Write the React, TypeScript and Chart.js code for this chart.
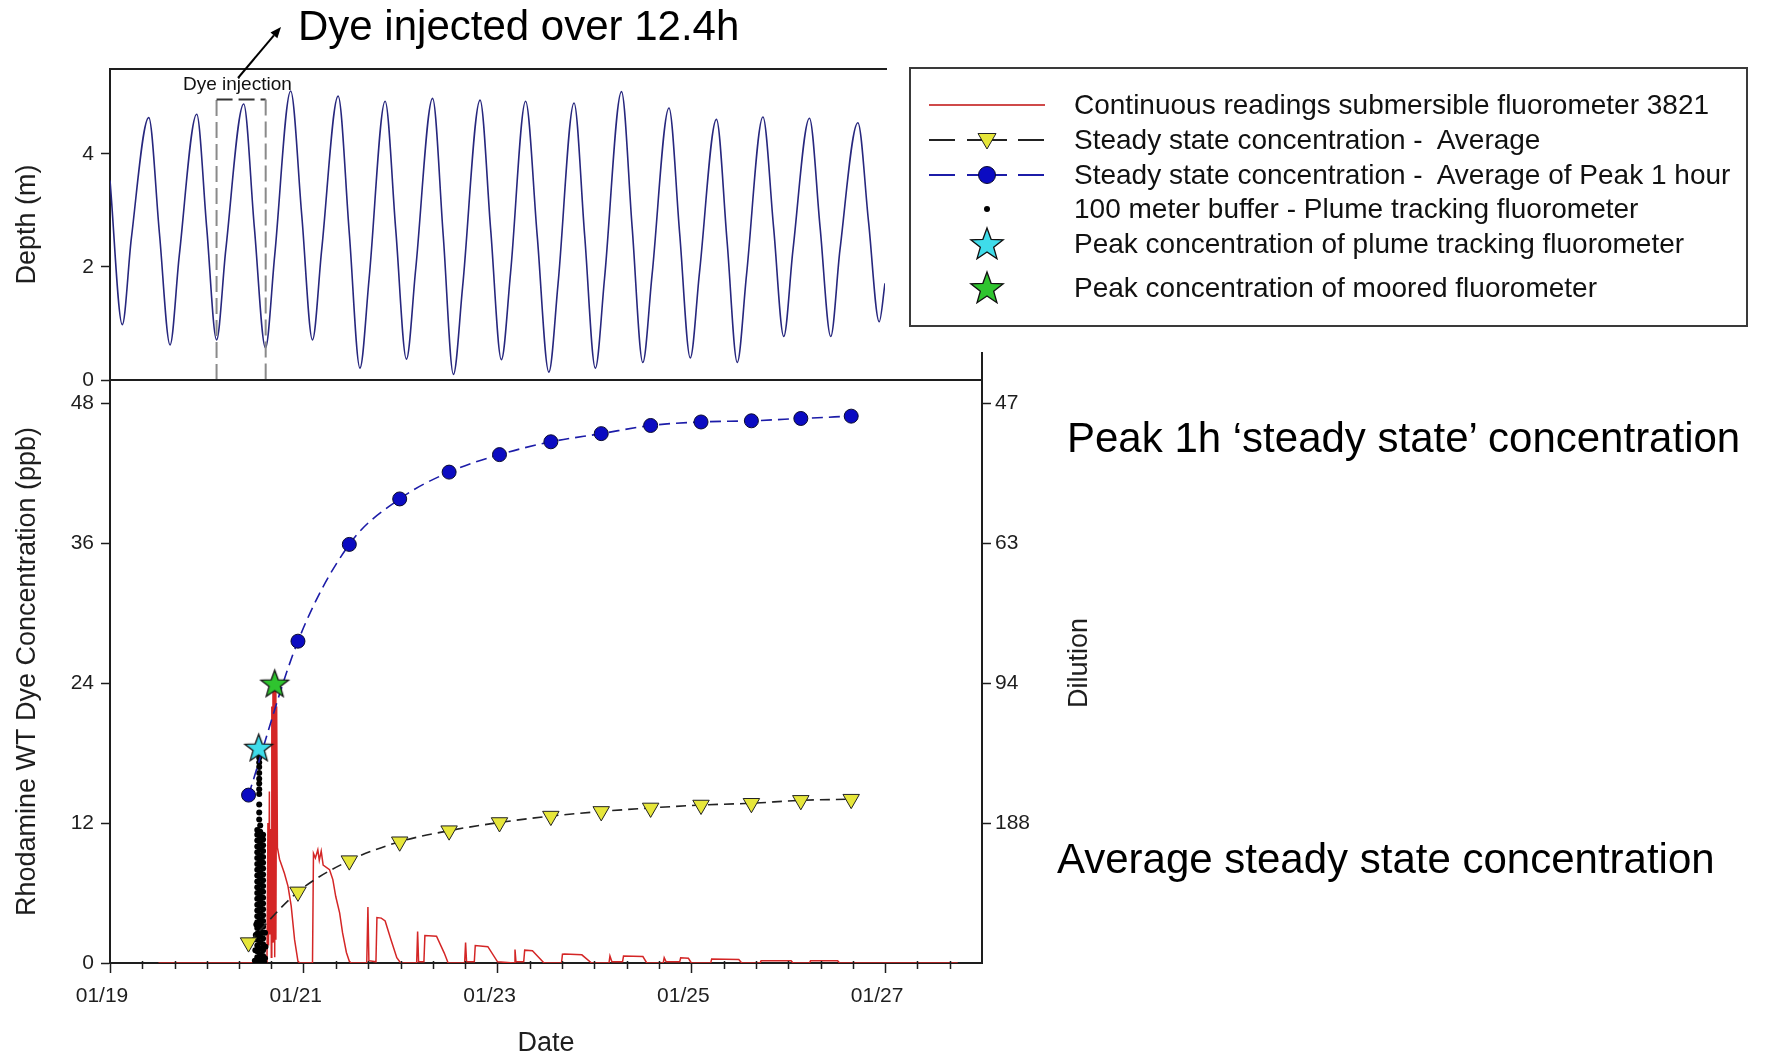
import React, { useEffect, useRef } from 'react';
import { Chart, registerables } from 'chart.js';

Chart.register(...registerables);

const W = 1765;
const H = 1058;
const FONT = '"Liberation Sans", Arial, Helvetica, sans-serif';
const INK = '#1e1e1e';

// ---------- axis ticks and labels ----------
const dateTickDays = [0, 2, 4, 6, 8]; // days after 01/19 00:00
const dateTickLabels = ['01/19', '01/21', '01/23', '01/25', '01/27'];
const depthTicks = [0, 2, 4];
const concTicks = [0, 12, 24, 36, 48];
const dilutionTicks = [12, 24, 36, 48];
const dilutionLabels = ['188', '94', '63', '47'];

// ---------- top panel: water depth (m) vs day ----------
const depthSeries: [number, number][] = [
  [0, 3.53], [0.127, 0.98], [0.22, 2.5], [0.40, 4.64], [0.51, 2.6], [0.62, 0.62],
  [0.715, 2.2], [0.895, 4.70], [0.998, 2.7], [1.10, 0.71], [1.195, 2.3], [1.38, 4.88],
  [1.49, 2.7], [1.605, 0.57], [1.70, 2.2], [1.865, 5.11], [1.98, 2.9], [2.09, 0.71],
  [2.185, 2.3], [2.355, 5.02], [2.47, 2.6], [2.58, 0.21], [2.675, 1.8], [2.84, 4.93],
  [2.95, 2.65], [3.06, 0.37], [3.155, 1.95], [3.33, 4.98], [3.44, 2.55], [3.545, 0.10],
  [3.64, 1.65], [3.82, 4.95], [3.93, 2.65], [4.04, 0.36], [4.135, 1.9], [4.29, 4.93],
  [4.41, 2.55], [4.53, 0.14], [4.625, 1.7], [4.79, 4.90], [4.90, 2.55], [5.01, 0.21],
  [5.105, 1.8], [5.28, 5.10], [5.39, 2.7], [5.50, 0.31], [5.595, 1.85], [5.77, 4.81],
  [5.88, 2.6], [5.99, 0.39], [6.085, 1.9], [6.26, 4.61], [6.37, 2.45], [6.475, 0.31],
  [6.57, 1.85], [6.74, 4.65], [6.85, 2.7], [6.955, 0.77], [7.05, 2.3], [7.22, 4.63],
  [7.33, 2.7], [7.44, 0.77], [7.535, 2.3], [7.72, 4.55], [7.83, 2.8], [7.94, 1.03],
  [8.0, 1.71],
];

// dye injection window (dashed box)
const injectionDays = [1.10, 1.10, 1.607, 1.607];
const injectionDepth = [0, 4.96, 4.96, 0];

// ---------- bottom panel ----------
// continuous readings, submersible fluorometer 3821 (ppb)
const fluorSeries: [number, number][] = [
  [0.50, 0], [1.62, 0], [1.63, 12.0], [1.636, 1.5], [1.645, 14.7], [1.652, 2.5], [1.66, 11.5],
  [1.665, 0.5], [1.67, 22.0], [1.676, 1.8], [1.682, 24.0], [1.688, 1.8], [1.694, 23.5],
  [1.70, 0.5], [1.706, 24.0], [1.712, 2.0], [1.72, 22.0], [1.728, 9.9], [1.75, 8.9],
  [1.80, 7.7], [1.837, 6.6], [1.87, 4.9], [1.905, 2.0], [1.94, 0.15], [1.96, 0],
  [2.09, 0], [2.10, 9.4], [2.12, 9.0], [2.145, 9.7], [2.16, 8.8], [2.18, 9.6], [2.20, 8.4],
  [2.266, 8.0], [2.30, 7.15], [2.33, 5.7], [2.37, 4.3], [2.40, 2.6], [2.44, 0.9], [2.47, 0.15],
  [2.49, 0], [2.65, 0], [2.662, 4.8], [2.672, 0.2], [2.745, 0.1], [2.755, 3.9], [2.80, 3.85],
  [2.84, 3.6], [2.90, 2.0], [2.96, 0.45], [3.0, 0], [3.165, 0], [3.175, 2.7], [3.185, 0.1],
  [3.24, 0.1], [3.25, 2.35], [3.37, 2.3], [3.45, 0.85], [3.49, 0], [3.66, 0], [3.67, 1.75],
  [3.68, 0.1], [3.76, 0.1], [3.77, 1.5], [3.90, 1.4], [4.0, 0.1], [4.17, 0], [4.18, 1.15],
  [4.19, 0.1], [4.27, 0.1], [4.28, 1.1], [4.36, 1.05], [4.48, 0], [4.66, 0], [4.67, 0.75],
  [4.69, 0.78], [4.87, 0.7], [4.97, 0], [5.15, 0], [5.16, 0.6], [5.18, 0.1], [5.29, 0.1],
  [5.30, 0.6], [5.50, 0.55], [5.54, 0], [5.71, 0], [5.72, 0.45], [5.74, 0.1], [5.88, 0.1],
  [5.89, 0.45], [5.97, 0.4], [6.0, 0], [6.20, 0], [6.21, 0.35], [6.49, 0.3], [6.52, 0],
  [6.71, 0], [6.72, 0.2], [7.03, 0.2], [7.05, 0], [7.22, 0], [7.23, 0.2], [7.51, 0.2],
  [7.53, 0], [8.75, 0],
];

// 100 meter buffer - plume tracking fluorometer (ppb)
const plumeSeries: [number, number][] = [
  [1.52, 0.0], [1.52, 0.5], [1.52, 1.0], [1.52, 1.5], [1.52, 2.0], [1.52, 2.5],
  [1.52, 3.0], [1.52, 3.5], [1.52, 4.0], [1.52, 4.5], [1.52, 5.0], [1.52, 5.5],
  [1.52, 6.0], [1.52, 6.5], [1.52, 7.0], [1.52, 7.5], [1.52, 8.0], [1.52, 8.5],
  [1.52, 9.0], [1.52, 9.5], [1.52, 10.0], [1.52, 10.5], [1.52, 11.0], [1.52, 11.4],
  [1.55, 0.25], [1.55, 0.75], [1.55, 1.25], [1.55, 1.75], [1.55, 2.25], [1.55, 2.75],
  [1.55, 3.25], [1.55, 3.75], [1.55, 4.25], [1.55, 4.75], [1.55, 5.25], [1.55, 5.75],
  [1.55, 6.25], [1.55, 6.75], [1.55, 7.25], [1.55, 7.75], [1.55, 8.25], [1.55, 8.75],
  [1.55, 9.25], [1.55, 9.75], [1.55, 10.25], [1.55, 10.75], [1.55, 11.25], [1.55, 11.8],
  [1.58, 0.1], [1.58, 0.6], [1.58, 1.1], [1.58, 1.6], [1.58, 2.1], [1.58, 2.6],
  [1.58, 3.1], [1.58, 3.6], [1.58, 4.1], [1.58, 4.6], [1.58, 5.1], [1.58, 5.6],
  [1.58, 6.1], [1.58, 6.6], [1.58, 7.1], [1.58, 7.6], [1.58, 8.1], [1.58, 8.6],
  [1.58, 9.1], [1.58, 9.6], [1.58, 10.1], [1.58, 10.6], [1.58, 11.0],
  [1.54, 12.3], [1.54, 12.9], [1.54, 13.6], [1.54, 14.5], [1.54, 14.9], [1.54, 15.4],
  [1.54, 15.8], [1.54, 16.3], [1.54, 16.8], [1.54, 17.2], [1.54, 17.6],
  [1.495, 0.2], [1.50, 1.1], [1.505, 2.4], [1.51, 3.3], [1.60, 0.4], [1.605, 1.4],
  [1.60, 2.6], [1.595, 0.0],
];

// steady state concentrations, one per tidal cycle
const steadyDays = [1.43, 1.94, 2.47, 2.99, 3.50, 4.02, 4.55, 5.07, 5.58, 6.10, 6.62, 7.13, 7.65];
const peakHourConc = [14.4, 27.6, 35.9, 39.8, 42.1, 43.6, 44.7, 45.4, 46.1, 46.4, 46.5, 46.7, 46.9];
const averageConc = [1.75, 6.1, 8.78, 10.4, 11.35, 12.05, 12.6, 13.0, 13.3, 13.55, 13.7, 13.95, 14.05];

const plumePeakDays = [1.535];
const plumePeakConc = [18.5];
const mooredPeakDays = [1.70];
const mooredPeakConc = [24.0];

const legendLabels = [
  'Continuous readings submersible fluorometer 3821',
  'Steady state concentration -  Average',
  'Steady state concentration -  Average of Peak 1 hour',
  '100 meter buffer - Plume tracking fluorometer',
  'Peak concentration of plume tracking fluorometer',
  'Peak concentration of moored fluorometer',
];

const C_RED = '#d42626';
const C_BLUE_LINE = '#1c1ca8';
const C_BLUE_FILL = '#0b0bc2';
const C_YELLOW = '#e6e63a';
const C_CYAN = '#3fdcea';
const C_GREEN = '#2fc42f';
const C_DEPTH = '#27277e';

const pairs = (s: [number, number][]) => s.map(([x, y]) => ({ x, y }));
const zip = (xs: number[], ys: number[]) => xs.map((x, i) => ({ x, y: ys[i] }));

function makeStar(fill: string, outer: number, inner: number): HTMLCanvasElement {
  const size = Math.ceil(outer * 2 + 4);
  const c = document.createElement('canvas');
  c.width = size;
  c.height = size;
  const g = c.getContext('2d')!;
  const cx = size / 2;
  const cy = size / 2 + outer * 0.1;
  g.beginPath();
  for (let i = 0; i < 10; i++) {
    const r = i % 2 === 0 ? outer : inner;
    const a = -Math.PI / 2 + (i * Math.PI) / 5;
    const x = cx + r * Math.cos(a);
    const y = cy + r * Math.sin(a);
    if (i === 0) g.moveTo(x, y);
    else g.lineTo(x, y);
  }
  g.closePath();
  g.fillStyle = fill;
  g.fill();
  g.lineWidth = 1.3;
  g.strokeStyle = '#111';
  g.stroke();
  return c;
}

function starPoints(cx: number, cy: number, outer: number, inner: number): string {
  const pts: string[] = [];
  for (let i = 0; i < 10; i++) {
    const r = i % 2 === 0 ? outer : inner;
    const a = -Math.PI / 2 + (i * Math.PI) / 5;
    pts.push(`${(cx + r * Math.cos(a)).toFixed(2)},${(cy + r * Math.sin(a)).toFixed(2)}`);
  }
  return pts.join(' ');
}

const tickFont = { family: FONT, size: 21 };
const titleFont = { family: FONT, size: 27 };

// chart areas (page pixels)
const TOP = { left: 110, top: 69, right: 885, bottom: 380 };
const BOT = { left: 110, top: 380, right: 982, bottom: 963 };

export default function App() {
  const topRef = useRef<HTMLCanvasElement>(null);
  const botRef = useRef<HTMLCanvasElement>(null);

  useEffect(() => {
    if (!topRef.current || !botRef.current) return;

    const topFrame = {
      id: 'topFrame',
      afterDraw(chart: any) {
        const { ctx, chartArea: a } = chart;
        ctx.save();
        ctx.strokeStyle = INK;
        ctx.lineWidth = 2;
        ctx.beginPath();
        ctx.moveTo(a.left - 1, a.top);
        ctx.lineTo(a.right + 2, a.top);
        ctx.stroke();
        ctx.restore();
      },
    };

    const top = new Chart(topRef.current, {
      type: 'line',
      data: {
        datasets: [
          {
            label: 'Dye injection',
            data: zip(injectionDays, injectionDepth),
            borderColor: '#8a8a8a',
            borderWidth: 2,
            borderDash: [16, 6],
            pointRadius: 0,
            segment: {
              borderColor: (c: any) => (c.p0DataIndex === 1 ? '#333' : '#8a8a8a'),
            },
            xAxisID: 'x',
            yAxisID: 'y',
          } as any,
          {
            label: 'Depth',
            data: pairs(depthSeries),
            borderColor: C_DEPTH,
            borderWidth: 1.6,
            pointRadius: 0,
            cubicInterpolationMode: 'monotone',
            xAxisID: 'x',
            yAxisID: 'y',
          },
        ],
      },
      options: {
        animation: false,
        responsive: false,
        events: [],
        layout: {
          padding: { left: 0, top: TOP.top, right: W - TOP.right, bottom: H - TOP.bottom },
        },
        plugins: { legend: { display: false }, tooltip: { enabled: false } },
        scales: {
          x: { type: 'linear', min: 0, max: 8, display: false },
          y: {
            type: 'linear',
            position: 'left',
            min: 0,
            max: 5.5,
            afterBuildTicks: (s: any) => {
              s.ticks = depthTicks.map((v) => ({ value: v }));
            },
            afterFit: (s: any) => {
              s.width = TOP.left;
            },
            ticks: { font: tickFont, color: INK, padding: 7 },
            grid: { drawOnChartArea: false, tickLength: 9, color: INK, tickWidth: 1.5 },
            border: { display: true, color: INK, width: 2 },
            title: {
              display: true,
              text: 'Depth (m)',
              font: titleFont,
              color: INK,
              padding: { top: 11, bottom: 0 },
            },
          },
        },
      } as any,
      plugins: [topFrame],
    });

    const botFrame = {
      id: 'botFrame',
      afterDraw(chart: any) {
        const { ctx, chartArea: a, scales } = chart;
        const xs = scales.x;
        ctx.save();
        ctx.strokeStyle = INK;
        ctx.lineWidth = 2;
        ctx.beginPath();
        ctx.moveTo(a.left - 1, a.top);
        ctx.lineTo(a.right + 1, a.top);
        ctx.moveTo(a.right, a.top);
        ctx.lineTo(a.right, a.top - 28);
        ctx.stroke();
        ctx.lineWidth = 1.5;
        ctx.beginPath();
        for (let k = 1; k < 27; k++) {
          if (k % 6 === 0) continue;
          const px = Math.round(xs.getPixelForValue(k / 3)) + 0.5;
          ctx.moveTo(px, a.bottom - 2);
          ctx.lineTo(px, a.bottom + 6);
        }
        ctx.stroke();
        ctx.restore();
      },
    };

    const greenStar = makeStar(C_GREEN, 14.5, 6);
    const cyanStar = makeStar(C_CYAN, 14.5, 6);

    const bot = new Chart(botRef.current, {
      type: 'line',
      data: {
        datasets: [
          {
            label: legendLabels[5],
            data: zip(mooredPeakDays, mooredPeakConc),
            showLine: false,
            pointStyle: greenStar,
            pointRadius: 10,
            xAxisID: 'x',
            yAxisID: 'y',
          },
          {
            label: legendLabels[4],
            data: zip(plumePeakDays, plumePeakConc),
            showLine: false,
            pointStyle: cyanStar,
            pointRadius: 10,
            xAxisID: 'x',
            yAxisID: 'y',
          },
          {
            label: legendLabels[2],
            data: zip(steadyDays, peakHourConc),
            borderColor: C_BLUE_LINE,
            borderWidth: 1.6,
            borderDash: [11, 6],
            cubicInterpolationMode: 'monotone',
            pointRadius: 7,
            pointBackgroundColor: C_BLUE_FILL,
            pointBorderColor: '#0a0a30',
            pointBorderWidth: 1,
            xAxisID: 'x',
            yAxisID: 'y',
          },
          {
            label: legendLabels[1],
            data: zip(steadyDays, averageConc),
            borderColor: '#222',
            borderWidth: 1.6,
            borderDash: [10, 6],
            cubicInterpolationMode: 'monotone',
            pointStyle: 'triangle',
            rotation: 180,
            pointRadius: 9.5,
            pointBackgroundColor: C_YELLOW,
            pointBorderColor: '#222',
            pointBorderWidth: 1,
            xAxisID: 'x',
            yAxisID: 'y',
          },
          {
            label: legendLabels[3],
            data: pairs(plumeSeries),
            showLine: false,
            pointRadius: 3,
            pointBackgroundColor: '#000',
            pointBorderColor: '#000',
            pointBorderWidth: 0,
            xAxisID: 'x',
            yAxisID: 'y',
          },
          {
            label: legendLabels[0],
            data: pairs(fluorSeries),
            borderColor: C_RED,
            borderWidth: 1.5,
            pointRadius: 0,
            clip: 0,
            xAxisID: 'x',
            yAxisID: 'y',
          },
        ],
      },
      options: {
        animation: false,
        responsive: false,
        events: [],
        layout: {
          padding: { left: 0, top: BOT.top, right: W - BOT.right - 120, bottom: 0 },
        },
        plugins: { legend: { display: false }, tooltip: { enabled: false } },
        scales: {
          x: {
            type: 'linear',
            position: 'bottom',
            min: 0,
            max: 9,
            afterBuildTicks: (s: any) => {
              s.ticks = dateTickDays.map((v) => ({ value: v }));
            },
            afterFit: (s: any) => {
              s.height = H - BOT.bottom;
            },
            ticks: {
              font: tickFont,
              color: INK,
              padding: 11,
              labelOffset: -8,
              maxRotation: 0,
              autoSkip: false,
              callback: (v: any) => {
                const i = dateTickDays.indexOf(Number(v));
                return i >= 0 ? dateTickLabels[i] : '';
              },
            },
            grid: { drawOnChartArea: false, tickLength: 10, color: INK, tickWidth: 1.5 },
            border: { display: true, color: INK, width: 2 },
            title: {
              display: true,
              text: 'Date',
              font: { family: FONT, size: 27, lineHeight: 1.05 },
              color: INK,
              padding: { top: 0, bottom: 0 },
            },
          },
          y: {
            type: 'linear',
            position: 'left',
            min: 0,
            max: 50,
            afterBuildTicks: (s: any) => {
              s.ticks = concTicks.map((v) => ({ value: v }));
            },
            afterFit: (s: any) => {
              s.width = BOT.left;
            },
            ticks: { font: tickFont, color: INK, padding: 7 },
            grid: { drawOnChartArea: false, tickLength: 9, color: INK, tickWidth: 1.5 },
            border: { display: true, color: INK, width: 2 },
            title: {
              display: true,
              text: 'Rhodamine WT Dye Concentration (ppb)',
              font: titleFont,
              color: INK,
              padding: { top: 11, bottom: 0 },
            },
          },
          y2: {
            type: 'linear',
            position: 'right',
            min: 0,
            max: 50,
            afterBuildTicks: (s: any) => {
              s.ticks = dilutionTicks.map((v) => ({ value: v }));
            },
            afterFit: (s: any) => {
              s.width = 120;
            },
            ticks: {
              font: tickFont,
              color: INK,
              padding: 4,
              callback: (v: any) => {
                const i = dilutionTicks.indexOf(Number(v));
                return i >= 0 ? dilutionLabels[i] : '';
              },
            },
            grid: { drawOnChartArea: false, tickLength: 9, color: INK, tickWidth: 1.5 },
            border: { display: true, color: INK, width: 2 },
          },
        },
      } as any,
      plugins: [botFrame],
    });

    return () => {
      top.destroy();
      bot.destroy();
    };
  }, []);

  // arrow from the "Dye injection" label to the annotation
  const tail = { x: 238, y: 78 };
  const tip = { x: 281, y: 27 };
  const dx = tip.x - tail.x;
  const dy = tip.y - tail.y;
  const len = Math.hypot(dx, dy);
  const ux = dx / len;
  const uy = dy / len;
  const bx = tip.x - ux * 11;
  const by = tip.y - uy * 11;
  const head = `${tip.x},${tip.y} ${bx - uy * 4.5},${by + ux * 4.5} ${bx + uy * 4.5},${by - ux * 4.5}`;

  const LEG = { left: 909, top: 67, width: 839, height: 260 };
  const rows = [38, 73, 108, 142, 177, 221];
  const symX = 78;

  const bigText: React.CSSProperties = {
    position: 'absolute',
    fontFamily: FONT,
    fontSize: 42,
    lineHeight: '42px',
    whiteSpace: 'nowrap',
    color: '#000',
  };

  return (
    <div
      style={{
        position: 'absolute',
        left: 0,
        top: 0,
        width: W,
        height: H,
        background: '#fff',
        overflow: 'hidden',
        fontFamily: FONT,
      }}
    >
      <canvas
        ref={topRef}
        width={W}
        height={H}
        style={{ position: 'absolute', left: 0, top: 0, width: W, height: H }}
      />
      <canvas
        ref={botRef}
        width={W}
        height={H}
        style={{ position: 'absolute', left: 0, top: 0, width: W, height: H }}
      />

      <svg
        width={W}
        height={H}
        style={{ position: 'absolute', left: 0, top: 0, pointerEvents: 'none' }}
      >
        <line x1={tail.x} y1={tail.y} x2={bx} y2={by} stroke="#000" strokeWidth={2} />
        <polygon points={head} fill="#000" />
      </svg>

      <div style={{ ...bigText, left: 298, top: 5 }}>Dye injected over 12.4h</div>
      <div style={{ ...bigText, left: 1067, top: 417 }}>Peak 1h ‘steady state’ concentration</div>
      <div style={{ ...bigText, left: 1057, top: 838 }}>Average steady state concentration</div>

      <div
        style={{
          position: 'absolute',
          left: 183,
          top: 74,
          fontSize: 19,
          lineHeight: '19px',
          whiteSpace: 'nowrap',
          color: '#111',
        }}
      >
        Dye injection
      </div>

      <div
        style={{
          position: 'absolute',
          left: 1078,
          top: 663,
          fontSize: 27,
          lineHeight: '27px',
          whiteSpace: 'nowrap',
          color: INK,
          transform: 'translate(-50%, -50%) rotate(-90deg)',
        }}
      >
        Dilution
      </div>

      <div
        style={{
          position: 'absolute',
          left: LEG.left,
          top: LEG.top,
          width: LEG.width,
          height: LEG.height,
          boxSizing: 'border-box',
          border: '2px solid #3a3a3a',
          background: '#fff',
        }}
      >
        <svg
          width={LEG.width}
          height={LEG.height}
          style={{ position: 'absolute', left: -2, top: -2 }}
        >
          <line x1={20} y1={rows[0]} x2={136} y2={rows[0]} stroke="#cf4a4a" strokeWidth={2} />
          {[
            [20, 46],
            [58, 98],
            [109, 135],
          ].map(([a, b], i) => (
            <line key={'k' + i} x1={a} y1={rows[1]} x2={b} y2={rows[1]} stroke="#222" strokeWidth={2} />
          ))}
          <polygon
            points={`${symX - 9},${rows[1] - 6.5} ${symX + 9},${rows[1] - 6.5} ${symX},${rows[1] + 9}`}
            fill={C_YELLOW}
            stroke="#222"
            strokeWidth={1}
          />
          {[
            [20, 46],
            [58, 98],
            [109, 135],
          ].map(([a, b], i) => (
            <line key={'b' + i} x1={a} y1={rows[2]} x2={b} y2={rows[2]} stroke={C_BLUE_LINE} strokeWidth={2} />
          ))}
          <circle cx={symX} cy={rows[2]} r={8.5} fill={C_BLUE_FILL} stroke="#0a0a30" strokeWidth={1} />
          <circle cx={symX} cy={rows[3]} r={3} fill="#000" />
          <polygon points={starPoints(symX, rows[4] + 1, 17, 7)} fill={C_CYAN} stroke="#111" strokeWidth={1.3} />
          <polygon points={starPoints(symX, rows[5] + 1, 17, 7)} fill={C_GREEN} stroke="#111" strokeWidth={1.3} />
        </svg>
        {legendLabels.map((t, i) => (
          <div
            key={t}
            style={{
              position: 'absolute',
              left: 163,
              top: rows[i] - 2,
              transform: 'translateY(-50%)',
              fontSize: 28,
              lineHeight: '28px',
              whiteSpace: 'pre',
              color: '#111',
            }}
          >
            {t}
          </div>
        ))}
      </div>
    </div>
  );
}
